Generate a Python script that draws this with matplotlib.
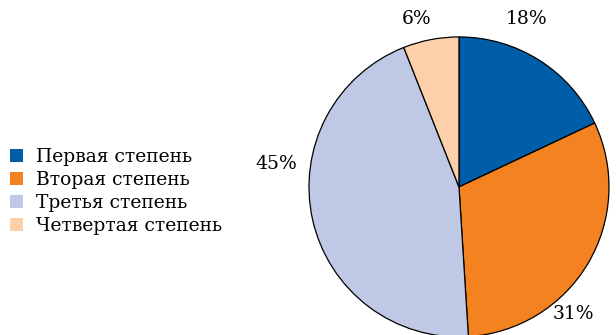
import matplotlib
matplotlib.use("Agg")
import matplotlib.pyplot as plt
from matplotlib.patches import Patch

plt.rcParams["font.family"] = ["DejaVu Serif"]

categories = ["Первая степень", "Вторая степень", "Третья степень", "Четвертая степень"]
shares = [18, 31, 45, 6]
colors = ["#005DA8", "#F58220", "#BFC9E6", "#FDD0AA"]
# label anchor points around the pie, in units of the pie radius
label_pos = [(0.45, 1.12), (0.76, -0.85), (-1.22, 0.15), (-0.28, 1.12)]

fig = plt.figure(figsize=(6.16, 3.35), dpi=100)
ax = fig.add_axes([0.5016, -0.006, 0.487, 0.896])

wedges, _ = ax.pie(shares, colors=colors, startangle=90, counterclock=False,
                   radius=1.0, wedgeprops=dict(edgecolor="black", linewidth=0.9))
for w in wedges:
    w.set_clip_on(False)
ax.set_xlim(-1, 1)
ax.set_ylim(-1, 1)
ax.set_aspect("equal")

for v, (x, y) in zip(shares, label_pos):
    ax.text(x, y, f"{v}%", ha="center", va="center", fontsize=13.5, clip_on=False)

handles = [Patch(facecolor=c, edgecolor="none") for c in colors]
fig.legend(handles, categories, loc="center left", bbox_to_anchor=(-0.005, 0.428),
           frameon=False, fontsize=13.5, handlelength=0.68, handleheight=0.68,
           handletextpad=0.7, labelspacing=0.28, borderaxespad=0.3)

fig.savefig("out.png", dpi=100)
